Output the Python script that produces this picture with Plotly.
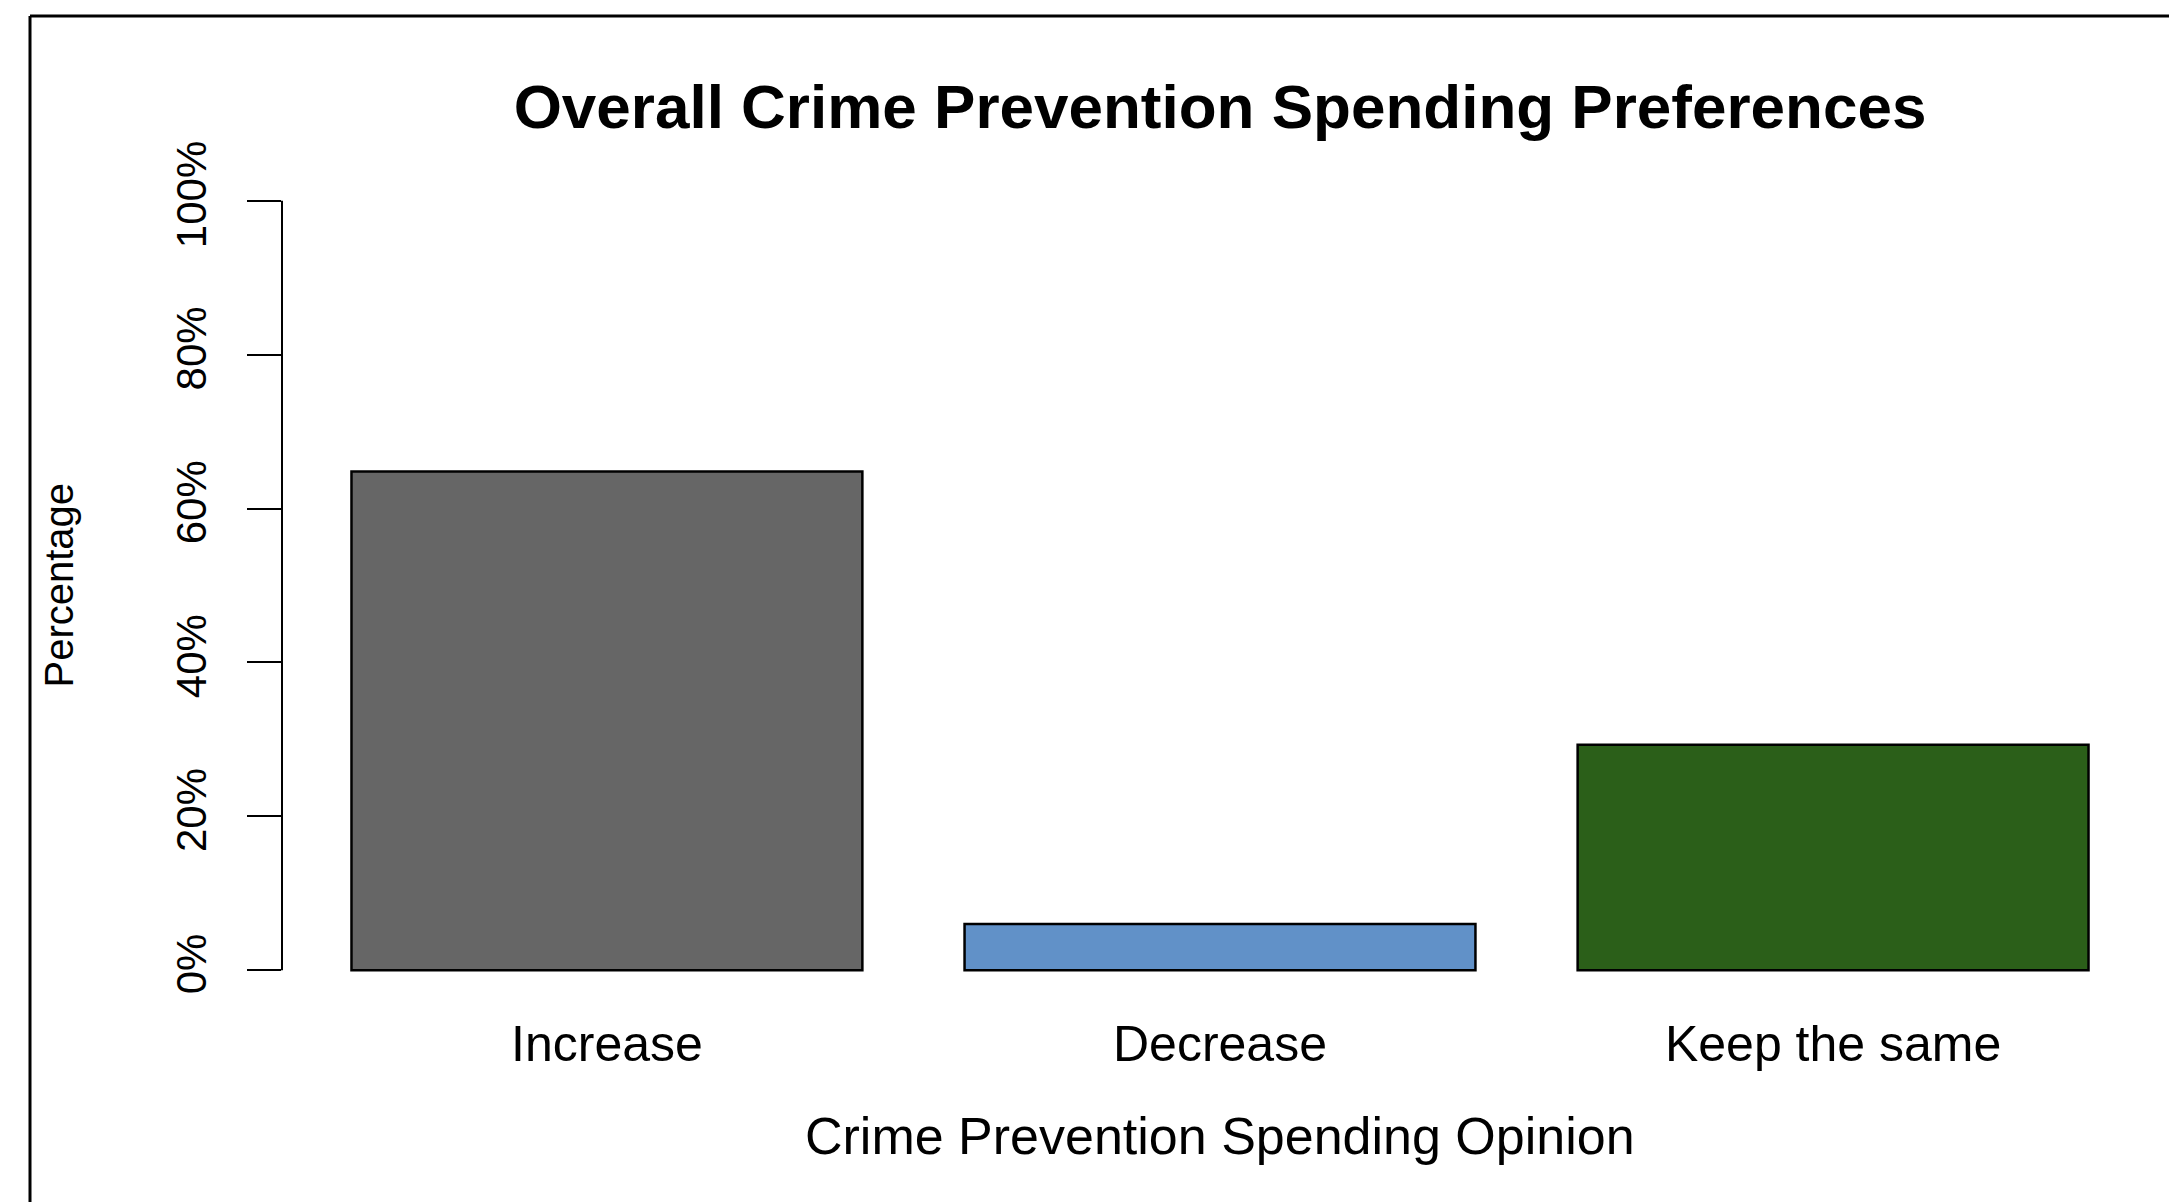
import plotly.graph_objects as go

# ---- data ----
categories = ["Increase", "Decrease", "Keep the same"]
percentages = [0.648, 0.060, 0.293]
bar_colors = ["#666666", "#6191C8", "#2B5F19"]
y_tick_values = [0, 0.2, 0.4, 0.6, 0.8, 1.0]
y_tick_labels = ["0%", "20%", "40%", "60%", "80%", "100%"]

# R barplot geometry: width 1, space 0.2
bar_width = 1.0
space = 0.2
x_pos = [space * (i + 1) + bar_width * i + bar_width / 2 for i in range(len(categories))]
x_lo = space
x_hi = x_pos[-1] + bar_width / 2
pad = 0.04 * (x_hi - x_lo)
x_range = [x_lo - pad, x_hi + pad]
y_range = [-0.04, 1.04]

# page has an 8px body margin; size figure to fill the window exactly
OFF = 8
W, H = 2177 - OFF, 1202 - OFF
ML, MT = 282 - OFF, 170 - OFF
MR = W - (2158 - OFF)
MB = H - (1001 - OFF)
PW = W - ML - MR
PH = H - MT - MB


def px_x(px):  # reference-screen px -> paper
    return (px - OFF - ML) / PW


def px_y(py):
    return 1 - (py - OFF - MT) / PH


FONT = "Liberation Sans, Arial, Helvetica, sans-serif"

fig = go.Figure()
fig.add_trace(go.Bar(
    x=x_pos, y=percentages, width=bar_width,
    marker=dict(color=bar_colors, line=dict(color="black", width=2.5)),
    showlegend=False, hoverinfo="skip",
))

fig.update_layout(
    width=W, height=H,
    margin=dict(l=ML, r=MR, t=MT, b=MB, pad=0),
    paper_bgcolor="white", plot_bgcolor="white",
    font=dict(family=FONT, color="black"),
    title=dict(text="<b>Overall Crime Prevention Spending Preferences</b>",
               font=dict(size=62, family=FONT, color="black"),
               x=0.5, xref="paper", xanchor="center",
               y=1 - (106 - OFF) / H, yref="container", yanchor="middle"),
    xaxis=dict(range=x_range, tickvals=x_pos, ticktext=categories,
               showgrid=False, zeroline=False, showline=False, ticks="",
               tickfont=dict(size=50, family=FONT, color="black"),
               ticklabelstandoff=9, fixedrange=True),
    yaxis=dict(range=y_range, tickvals=y_tick_values, ticktext=y_tick_labels,
               showgrid=False, zeroline=False, showline=False,
               ticks="outside", ticklen=34, tickwidth=2, tickcolor="black",
               tickangle=-90, tickfont=dict(size=42, family=FONT, color="black"),
               ticklabelstandoff=24, fixedrange=True),
    shapes=[
        # y axis line spanning 0..100%
        dict(type="line", xref="paper", yref="y", x0=0, x1=0,
             y0=y_tick_values[0], y1=y_tick_values[-1],
             line=dict(color="black", width=2)),
        # outer frame (left and top edges)
        dict(type="line", xref="paper", yref="paper",
             x0=px_x(30), x1=px_x(30), y0=px_y(16), y1=px_y(1215),
             line=dict(color="black", width=3)),
        dict(type="line", xref="paper", yref="paper",
             x0=px_x(30), x1=px_x(2190), y0=px_y(16), y1=px_y(16),
             line=dict(color="black", width=3)),
    ],
    annotations=[
        dict(text="Crime Prevention Spending Opinion", xref="paper", yref="paper",
             x=0.5, y=px_y(1136), xanchor="center", yanchor="middle",
             showarrow=False, font=dict(size=52, family=FONT, color="black")),
        dict(text="Percentage", xref="paper", yref="paper",
             x=px_x(58), y=0.5, xanchor="center", yanchor="middle", textangle=-90,
             showarrow=False, font=dict(size=40, family=FONT, color="black")),
    ],
)

fig.write_html("out.html", config={"displayModeBar": False})
